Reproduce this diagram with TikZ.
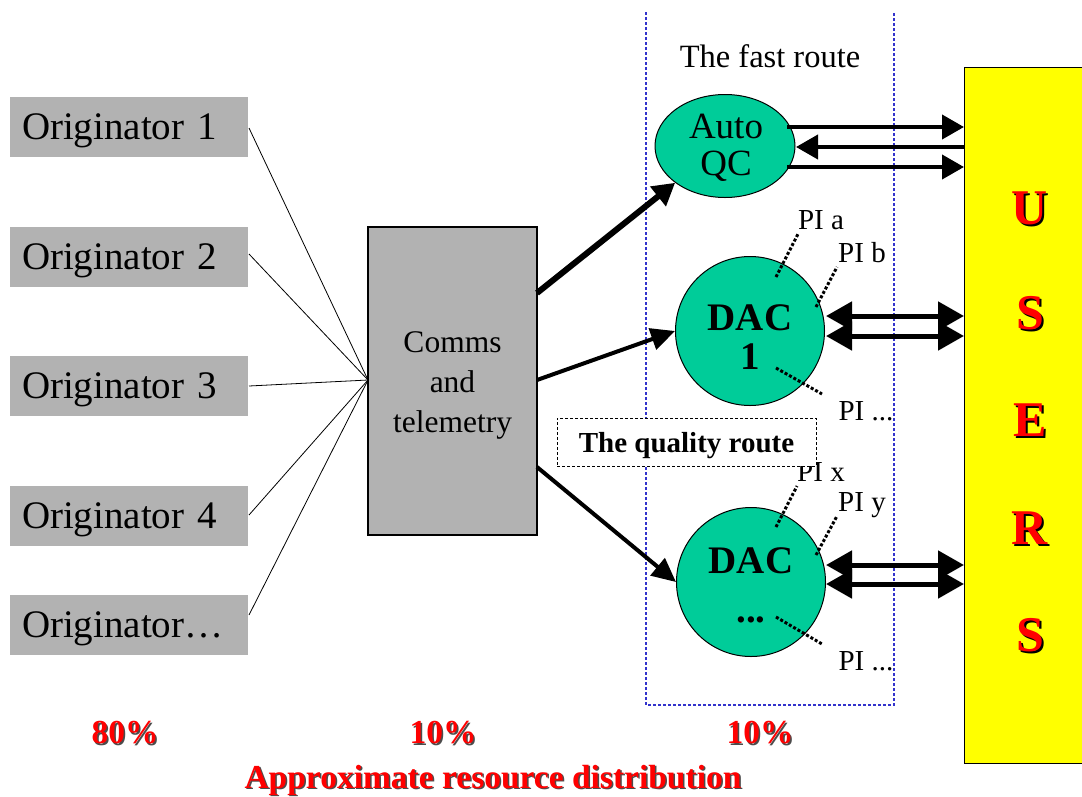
\documentclass[tikz,border=0pt]{standalone}
\usepackage{fontspec}
\setmainfont{Liberation Serif}
\usetikzlibrary{arrows.meta,shapes.geometric}
\definecolor{boxgray}{RGB}{178,178,178}
\definecolor{dacgreen}{RGB}{0,204,153}
\definecolor{routeblue}{RGB}{51,51,204}
\definecolor{usersyellow}{RGB}{255,255,0}
\tikzset{
  origbox/.style={fill=boxgray, minimum width=238pt, minimum height=60pt, text width=214pt, inner xsep=12pt, align=left, text depth=0pt, font=\fontsize{39}{42}\selectfont},
  feed/.style={line width=0.8pt},
  commsbox/.style={draw, line width=1.2pt, fill=boxgray, minimum width=169pt, minimum height=308pt},
  dac/.style={circle, draw, line width=1pt, fill=dacgreen, minimum size=149pt, inner sep=0pt},
  dactext/.style={inner sep=0pt, font=\bfseries\fontsize{39}{40}\selectfont},
  qctext/.style={inner sep=0pt, font=\fontsize{37}{40}\selectfont},
  thickarrow/.style={line width=6pt, -{Triangle[length=22pt,width=24pt]}},
  medarrow/.style={line width=4pt, -{Triangle[length=24pt,width=22pt]}},
  dblarrow/.style={line width=5pt, {Triangle[length=26pt,width=28pt]}-{Triangle[length=26pt,width=28pt]}},
  pidot/.style={line width=3pt, dotted, line cap=butt},
  pilabel/.style={font=\fontsize{29}{30}\selectfont, inner sep=0pt},
  redtxt/.style={text=red, font=\bfseries\fontsize{33.5}{36}\selectfont, inner sep=0pt},
  shadowtxt/.style={text=black!70, font=\bfseries\fontsize{33.5}{36}\selectfont, inner sep=0pt},
  userletter/.style={text=red, font=\bfseries\fontsize{50}{54}\selectfont, inner sep=0pt},
  usershadow/.style={text=black, font=\bfseries\fontsize{50}{54}\selectfont, inner sep=0pt},
}
\begin{document}
\begin{tikzpicture}[x=1pt,y=-1pt]
\useasboundingbox (0,0) rectangle (1082,796);
% originators
\node[origbox] (o1) at (129,127) {Originator 1};
\node[origbox] (o2) at (129,257) {Originator 2};
\node[origbox] (o3) at (129,386) {Originator 3};
\node[origbox] (o4) at (129,516) {Originator 4};
\node[origbox] (o5) at (129,625) {Originator…};
% comms
\node[commsbox] (comms) at (452.5,381) {};
\node[align=center, font=\fontsize{31.5}{40}\selectfont] (commstxt) at (452.5,385) {Comms\\and\\telemetry};
\coordinate (hub) at (368,380);
\draw[feed] (249,128) -- (hub);
\draw[feed] (249,254) -- (hub);
\draw[feed] (249,386) -- (hub);
\draw[feed] (249,515) -- (hub);
\draw[feed] (249,615) -- (hub);
% blue route frame
\draw[routeblue, line width=1.3pt, dash pattern=on 3pt off 2pt] (646,12) -- (646,705) -- (894,705) -- (894,12);
\node[font=\fontsize{32.5}{34}\selectfont] (fast) at (770,56) {The fast route};
% users
\node[draw, line width=1.2pt, fill=usersyellow, minimum width=125pt, minimum height=696pt, anchor=north west, inner sep=0pt] (users) at (964,67) {};
\foreach \l/\yy in {U/208,S/313,E/420,R/528,S/635}{
  \node[usershadow] at (1032,\yy+2) {\l};
  \node[userletter] at (1030,\yy) {\l};
}
% auto QC
\node[ellipse, draw, line width=1pt, fill=dacgreen, minimum width=140pt, minimum height=103pt, inner sep=0pt] (aqc) at (725,146) {};
\node[qctext, text height=25pt, text depth=0pt, anchor=base] (auto) at (726,138) {Auto};
\node[qctext, text height=25pt, text depth=0pt, anchor=base] (qc) at (726,175) {QC};
% DACs
\node[dac] (dac1) at (750,331) {};
\node[dactext] (dac1a) at (750,318) {DAC};
\node[dactext] (dac1b) at (750,357) {1};
\node[dac] (dacn) at (751,582) {};
\node[dactext] (dacna) at (751,561) {DAC};
\node[dactext] (dacnb) at (751,620) {...};
% arrows from comms
\draw[thickarrow] (537,293) -- (aqc.south west);
\draw[medarrow] (537,380) -- (dac1.west);
\draw[medarrow] (537,467) -- (dacn.west);
% auto QC arrows
\coordinate (u1) at (964,127);
\coordinate (u2) at (964,147);
\coordinate (u3) at (964,167);
\draw[line width=4pt, -{Triangle[length=22pt,width=24pt]}] (787,127) -- (u1);
\draw[line width=4pt, {Triangle[length=22pt,width=24pt]}-] (796,147) -- (u2);
\draw[line width=4pt, -{Triangle[length=22pt,width=24pt]}] (787,167) -- (u3);
% DAC double arrows
\coordinate (d1a) at (964,316);
\coordinate (d1b) at (964,336);
\coordinate (dna) at (964,565);
\coordinate (dnb) at (964,584);
\draw[dblarrow] (826,316) -- (d1a);
\draw[dblarrow] (826,336) -- (d1b);
\draw[dblarrow] (826,565) -- (dna);
\draw[dblarrow] (826,584) -- (dnb);
% PI labels DAC 1
\node[pilabel] (pia) at (821,220) {PI a};
\node[pilabel] (pib) at (862,253) {PI b};
\node[pilabel] (pic) at (866,411) {PI ...};
\draw[pidot] (776,277) -- (798,234);
\draw[pidot] (816,307) -- (837,267);
\draw[pidot] (776,368) -- (822,394);
% PI labels DAC n
\node[pilabel] (pix) at (821,472) {PI x};
\node[pilabel] (piy) at (862,505) {PI y};
\node[pilabel] (piz) at (866,661) {PI ...};
\draw[pidot] (776,527) -- (797,486);
\draw[pidot] (816,555) -- (837,516);
\draw[pidot] (776,617) -- (822,644);
% quality route
\node[draw, line width=1pt, dash pattern=on 3pt off 2pt, fill=white, minimum width=259pt, minimum height=48pt, text depth=0pt, font=\bfseries\fontsize{29}{30}\selectfont] (qual) at (686.5,442) {The quality route};
% bottom labels
\foreach \t/\xx/\yy in {80\%/125/733, 10\%/443/733, 10\%/760/733, Approximate resource distribution/493/780}{
  \node[shadowtxt] at (\xx+1.5,\yy+1.5) {\t};
  \node[redtxt] at (\xx,\yy) {\t};
}
\end{tikzpicture}
\end{document}
